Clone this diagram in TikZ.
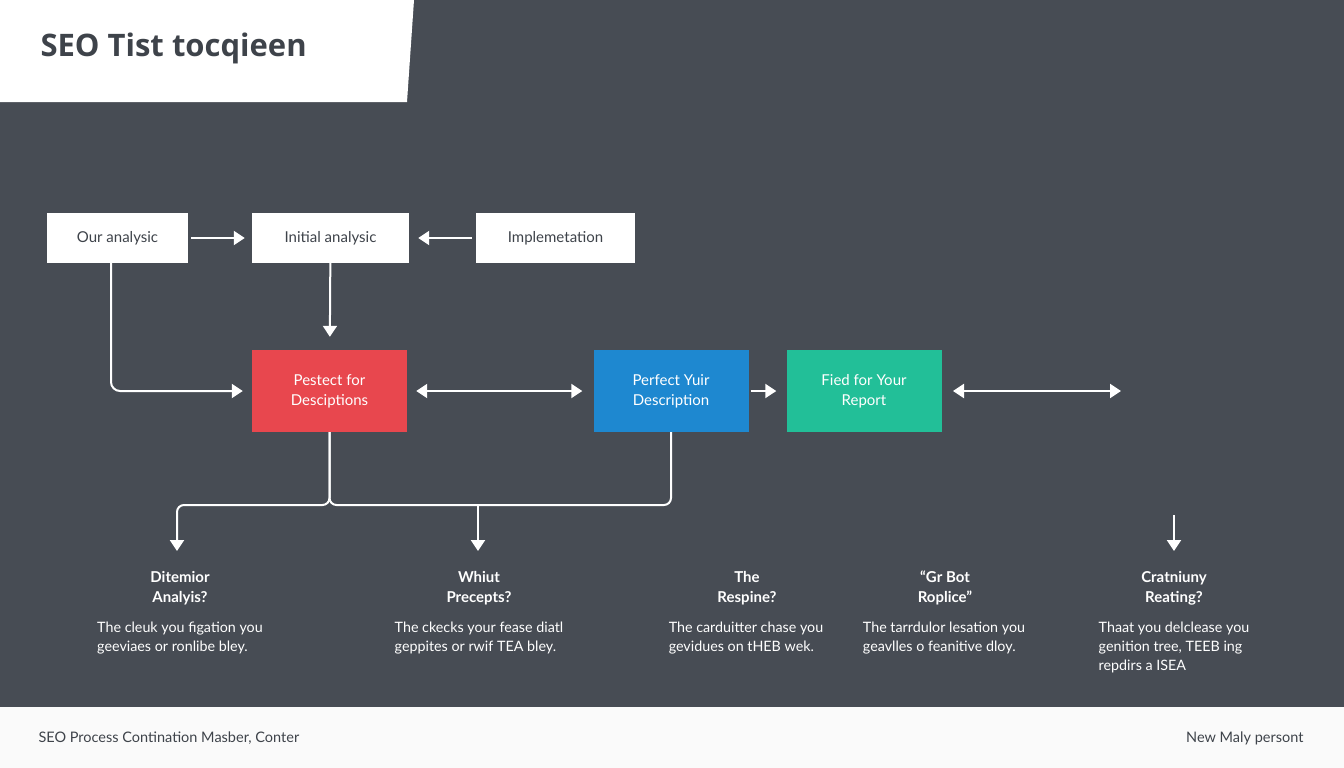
\documentclass[tikz,border=0pt]{standalone}
\usepackage{fontspec}
\setmainfont{Lato}
\newfontfamily\titlefont{Open Sans}
\usetikzlibrary{arrows.meta}
\definecolor{bgc}{HTML}{474C54}
\definecolor{ttl}{HTML}{3E434A}
\definecolor{redb}{HTML}{E8474E}
\definecolor{blueb}{HTML}{1E88D0}
\definecolor{greenb}{HTML}{22BF98}
\definecolor{foot}{HTML}{FAFAFA}
\tikzset{
  wbox/.style={fill=white, minimum width=#1, minimum height=50pt, inner sep=0pt, text=ttl, font=\fontsize{15}{17}\selectfont},
  cbox/.style={fill=#1, minimum width=155pt, minimum height=82pt, inner sep=0pt, text=white, align=center, font=\fontsize{15}{20}\selectfont},
  conn/.style={draw=white, line width=2pt},
  arr/.style={conn, -{Triangle[length=11pt,width=14pt]}},
  darr/.style={conn, {Triangle[length=11pt,width=14pt]}-{Triangle[length=11pt,width=14pt]}},
  coltitle/.style={text=white, align=center, font=\bfseries\fontsize{15}{20}\selectfont},
  coldesc/.style={text=white, align=left, anchor=north, font=\fontsize{14.3}{19}\selectfont},
  foottext/.style={text=ttl, font=\fontsize{14.5}{16}\selectfont}
}
\begin{document}
\begin{tikzpicture}[x=1pt,y=-1pt]
\useasboundingbox (0,0) rectangle (1344,768);
\fill[bgc] (0,0) rectangle (1344,768);
\fill[white] (0,0) -- (414,0) -- (407,102) -- (0,102) -- cycle;
\fill[foot] (0,707) rectangle (1344,768);
\node[anchor=west, text=ttl, font=\titlefont\bfseries\fontsize{31}{36}\selectfont] (title) at (37,48) {SEO Tist tocqieen};

% top row
\node[wbox=141pt] (oa) at (117.5,238) {Our analysic};
\node[wbox=157pt] (ia) at (330.5,238) {Initial analysic};
\node[wbox=159pt] (im) at (555.5,238) {Implemetation};

% colored row
\node[cbox=redb] (red) at (329.5,391) {Pestect for\\Desciptions};
\node[cbox=blueb] (blue) at (671,391) {Perfect Yuir\\Description};
\node[cbox=greenb] (green) at (864,391) {Fied for Your\\Report};

% connectors top
\draw[arr, shorten <=3pt, shorten >=7pt] (oa) -- (ia);
\draw[arr, shorten <=4pt, shorten >=9pt] (im) -- (ia);
\draw[arr, shorten >=13pt] (ia) -- (red);
\draw[arr, rounded corners=9pt, shorten >=9pt] ([xshift=-6.5pt]oa.south) |- (red.west);
\draw[darr, shorten <=9pt, shorten >=11pt] (red) -- (blue);
\draw[arr, shorten <=2pt, shorten >=10pt] (blue) -- (green);
\coordinate (r1) at (953,391);
\coordinate (r2) at (1121,391);
\draw[darr] (r1) -- (r2);

% bottom connectors
\coordinate (j) at (329.5,505);
\coordinate (m) at (478,505);
\coordinate (t1) at (177,551);
\coordinate (t2) at (478,551);
\coordinate (r3) at (1174,515);
\coordinate (t5) at (1174,551);
\draw[arr, rounded corners=7pt] (red.south) -- (j) -| (t1);
\draw[conn, rounded corners=7pt] (red.south) -- (j) -| (blue.south);
\draw[arr] (m) -- (t2);
\draw[arr] (r3) -- (t5);

% bottom columns
\node[coltitle] (h1) at (180,588) {Ditemior\\Analyis?};
\node[coldesc] (d1) at (180,618) {The cleuk you figation you\\geeviaes or ronlibe bley.};
\node[coltitle] (h2) at (479,588) {Whiut\\Precepts?};
\node[coldesc] (d2) at (479,618) {The ckecks your fease diatl\\geppites or rwif TEA bley.};
\node[coltitle] (h3) at (747,588) {The\\Respine?};
\node[coldesc] (d3) at (746,618) {The carduitter chase you\\gevidues on tHEB wek.};
\node[coltitle] (h4) at (945,588) {“Gr Bot\\Roplice”};
\node[coldesc] (d4) at (944,618) {The tarrdulor lesation you\\geavlles o feanitive dloy.};
\node[coltitle] (h5) at (1174,588) {Cratniuny\\Reating?};
\node[coldesc] (d5) at (1174,618) {Thaat you delclease you\\genition tree, TEEB ing\\repdirs a ISEA};

% footer
\node[foottext, anchor=west] (f1) at (35,738) {SEO Process Contination Masber, Conter};
\node[foottext, anchor=east] (f2) at (1307,738) {New Maly persont};
\end{tikzpicture}
\end{document}
